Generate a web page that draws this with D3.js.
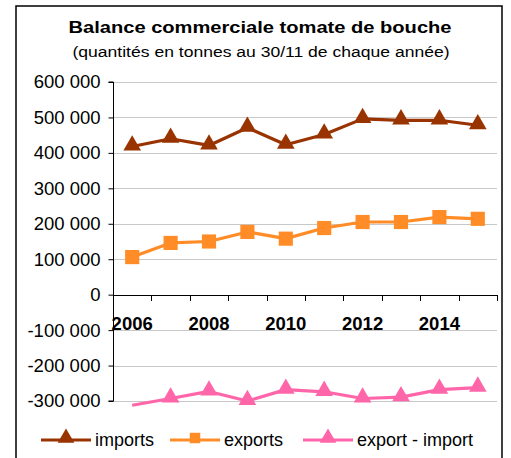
<!DOCTYPE html>
<html>
<head>
<meta charset="utf-8">
<script src="https://cdn.jsdelivr.net/npm/d3@7.9.0/dist/d3.min.js"></script>
<style>
  body { margin: 0; background: #fff; }
  svg { display: block; font-family: "Liberation Sans", Arial, sans-serif; }
</style>
</head>
<body>
<svg id="chart" width="511" height="458"></svg>
<script>
// Data
const years = [2006, 2007, 2008, 2009, 2010, 2011, 2012, 2013, 2014, 2015];
const imports = [418000, 440000, 421000, 471000, 423000, 452000, 496000, 492000, 492000, 478000];
const exports = [106000, 146000, 150000, 177000, 158000, 188000, 205000, 205000, 219000, 214000];
const balance = [-312000, -293000, -273000, -300000, -268000, -274000, -293000, -289000, -268000, -262000];
const yTicks = [600000, 500000, 400000, 300000, 200000, 100000, 0, -100000, -200000, -300000];
const xLabels = [2006, 2008, 2010, 2012, 2014];

const series = [
  { name: "imports", values: imports, color: "#993300", marker: "triangle" },
  { name: "exports", values: exports, color: "#ff8c26", marker: "square" },
  { name: "export - import", values: balance, color: "#ff66aa", marker: "triangle" },
];

const svg = d3.select("#chart");

// Frame
svg.append("rect")
  .attr("x", 16).attr("y", 6)
  .attr("width", 486).attr("height", 470)
  .attr("fill", "none").attr("stroke", "#000").attr("stroke-width", 1.5);

// Titles
svg.append("text")
  .attr("x", 260).attr("y", 33)
  .attr("text-anchor", "middle")
  .attr("font-size", 16).attr("font-weight", "bold")
  .attr("textLength", 383).attr("lengthAdjust", "spacingAndGlyphs")
  .text("Balance commerciale tomate de bouche");
svg.append("text")
  .attr("x", 261).attr("y", 57)
  .attr("text-anchor", "middle")
  .attr("font-size", 15.5)
  .attr("textLength", 377).attr("lengthAdjust", "spacingAndGlyphs")
  .text("(quantités en tonnes au 30/11 de chaque année)");

// Scales
const x = d3.scaleBand().domain(years).range([113, 497]);
const y = d3.scaleLinear().domain([-300000, 600000]).range([401, 82]);

const fmt = (v) => d3.format(",")(v).replace(/,/g, " ").replace("−", "-");

// Gridlines
svg.append("g")
  .selectAll("line")
  .data(yTicks)
  .join("line")
  .attr("x1", 113).attr("x2", 497)
  .attr("y1", (d) => Math.round(y(d)) + 0.5)
  .attr("y2", (d) => Math.round(y(d)) + 0.5)
  .attr("stroke", "#c8c8c8").attr("stroke-width", 1);

// Y axis
const yAxis = svg.append("g")
  .attr("transform", "translate(113.5,0)")
  .call(d3.axisLeft(y).tickValues(yTicks).tickSize(5).tickPadding(8).tickFormat(fmt));
yAxis.select(".domain").attr("stroke", "#000").attr("d", `M-5,${y(600000)}H0V${y(-300000)}H-5`);
yAxis.selectAll(".tick line").attr("stroke", "#000");
yAxis.selectAll(".tick text")
  .attr("font-size", 18.5).attr("fill", "#000")
  .attr("font-family", "Liberation Sans, Arial, sans-serif");

// X axis at zero
const xAxis = svg.append("g")
  .attr("transform", `translate(0,${Math.round(y(0)) + 0.5})`)
  .call(d3.axisBottom(x).tickSize(0).tickFormat(""));
xAxis.select(".domain").attr("stroke", "#000").attr("d", `M113,0H497`);
svg.append("g")
  .selectAll("line")
  .data(years.map((d) => x(d)).concat([x.range()[1]]))
  .join("line")
  .attr("x1", (d) => Math.round(d) + 0.5).attr("x2", (d) => Math.round(d) + 0.5)
  .attr("y1", Math.round(y(0))).attr("y2", Math.round(y(0)) + 6)
  .attr("stroke", "#000");

// Category labels (every other year)
svg.append("g")
  .selectAll("text")
  .data(xLabels)
  .join("text")
  .attr("x", (d) => x(d) + x.bandwidth() / 2)
  .attr("y", 330)
  .attr("text-anchor", "middle")
  .attr("font-size", 18.5).attr("font-weight", "bold")
  .text((d) => d);

// Markers
const tri = d3.symbol().type(d3.symbolTriangle).size(135);
const sq = d3.symbol().type(d3.symbolSquare).size(200);
function markerPath(kind) { return kind === "triangle" ? tri() : sq(); }

const line = d3.line()
  .x((d, i) => x(years[i]) + x.bandwidth() / 2)
  .y((d) => y(d));

series.forEach((s) => {
  svg.append("path")
    .attr("d", line(s.values))
    .attr("fill", "none")
    .attr("stroke", s.color)
    .attr("stroke-width", 3.2)
    .attr("stroke-linejoin", "round");

  // Excel skips markers outside the axis range
  svg.append("g")
    .selectAll("path")
    .data(s.values.map((v, i) => ({ v, year: years[i] })).filter((d) => d.v >= y.domain()[0]))
    .join("path")
    .attr("transform", (d) => `translate(${x(d.year) + x.bandwidth() / 2},${y(d.v) + (s.marker === "triangle" ? -1 : 0)})`)
    .attr("d", markerPath(s.marker))
    .attr("fill", s.color);
});

// Legend
const legendItems = [
  { x0: 41, x1: 91, tx: 95 },
  { x0: 170, x1: 220, tx: 224 },
  { x0: 303, x1: 353, tx: 357 },
];
const legendY = 440;
series.forEach((s, i) => {
  const li = legendItems[i];
  const g = svg.append("g");
  g.append("line")
    .attr("x1", li.x0).attr("x2", li.x1)
    .attr("y1", legendY).attr("y2", legendY)
    .attr("stroke", s.color).attr("stroke-width", 3.2);
  g.append("path")
    .attr("transform", `translate(${(li.x0 + li.x1) / 2},${legendY - 2})`)
    .attr("d", s.marker === "triangle" ? d3.symbol().type(d3.symbolTriangle).size(120)() : d3.symbol().type(d3.symbolSquare).size(110)())
    .attr("fill", s.color);
  g.append("text")
    .attr("x", li.tx).attr("y", legendY + 6)
    .attr("font-size", 18)
    .text(s.name);
});
</script>
</body>
</html>
